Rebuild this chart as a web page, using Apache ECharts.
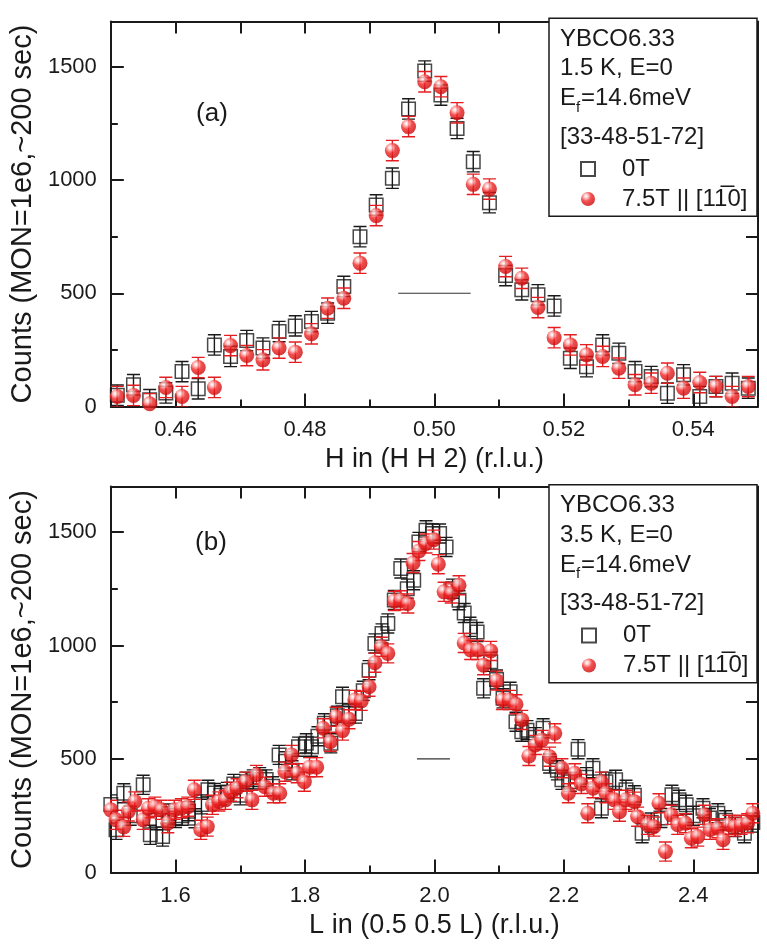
<!DOCTYPE html>
<html>
<head>
<meta charset="utf-8">
<script src="https://cdn.jsdelivr.net/npm/echarts@6/dist/echarts.min.js"></script>
<style>
html,body{margin:0;padding:0;background:#fff;}
#chart{width:767px;height:948px;}
</style>
</head>
<body>
<div id="chart"></div>
<script>
// ---------- Panel (a): H scan ----------
const H_A = [0.4510,0.4535,0.4560,0.4585,0.4610,0.4635,0.4660,0.4685,0.4710,0.4735,
             0.4760,0.4785,0.4810,0.4835,0.4860,0.4885,0.4910,0.4935,0.4960,0.4985,
             0.5010,0.5035,0.5060,0.5085,0.5110,0.5135,0.5160,0.5185,0.5210,0.5235,
             0.5260,0.5285,0.5310,0.5335,0.5360,0.5385,0.5410,0.5435,0.5460,0.5485];
const A_0T = [50,96,30,60,154,78,272,221,291,258,
              331,356,375,412,530,750,890,1008,1314,1481,
              1375,1228,1081,900,578,515,493,444,213,176,
              272,235,154,132,59,140,44,88,103,81];
const A_75T = [44,49,12,84,44,172,84,269,225,206,
               258,240,321,434,478,633,843,1130,1236,1434,
               1412,1297,981,960,618,566,437,304,272,228,
               221,169,96,103,147,81,106,88,44,88];
const ERR_A = 45;
const RES_A = [0.4944, 0.5056];

// ---------- Panel (b): L scan ----------
const L_B_0 = [1.500,1.508,1.520,1.530,1.550,1.561,1.570,1.580,1.590,1.600,
               1.610,1.620,1.630,1.640,1.650,1.660,1.670,1.680,1.690,1.700,
               1.710,1.720,1.730,1.740,1.750,1.760,1.770,1.780,1.790,1.802,
               1.810,1.820,1.830,1.840,1.850,1.858,1.868,1.878,1.890,1.899,
               1.908,1.919,1.928,1.938,1.948,1.958,1.968,1.976,1.987,1.997,
               2.008,2.018,2.028,2.038,2.046,2.055,2.066,2.076,2.087,2.096,
               2.106,2.117,2.126,2.135,2.143,2.156,2.168,2.178,2.190,2.197,
               2.210,2.222,2.235,2.245,2.258,2.265,2.280,2.296,2.309,2.321,
               2.335,2.350,2.367,2.378,2.389,2.400,2.415,2.425,2.438,2.450,
               2.465,2.479,2.492];
const B_0T = [300,188,349,250,386,166,230,158,260,240,
              250,270,239,300,364,350,340,355,390,340,
              400,410,420,410,380,518,490,450,554,569,
              554,600,657,569,690,774,700,700,800,891,
              1009,1053,1097,1200,1339,1250,1287,1456,1507,1493,
              1493,1434,1250,1199,1143,1082,1059,811,928,850,
              767,796,664,620,627,596,635,480,450,408,
              400,543,420,459,283,400,408,364,340,173,
              220,240,342,320,298,250,283,240,261,230,
              200,173,220];
const L_B_75 = [1.500,1.508,1.520,1.527,1.537,1.550,1.558,1.568,1.578,1.588,1.598,
                1.609,1.619,1.629,1.639,1.649,1.657,1.667,1.677,1.685,1.695,
                1.708,1.718,1.725,1.738,1.751,1.761,1.769,1.779,1.788,1.799,
                1.807,1.818,1.828,1.839,1.848,1.858,1.868,1.877,1.887,1.899,
                1.908,1.918,1.928,1.938,1.948,1.959,1.967,1.976,1.987,1.999,
                2.006,2.015,2.026,2.038,2.046,2.056,2.067,2.076,2.087,2.096,
                2.105,2.116,2.126,2.135,2.146,2.156,2.166,2.178,2.186,2.197,
                2.207,2.217,2.227,2.237,2.245,2.258,2.265,2.278,2.286,2.296,
                2.309,2.314,2.329,2.339,2.347,2.357,2.366,2.376,2.388,2.397,
                2.407,2.417,2.426,2.438,2.446,2.455,2.464,2.474,2.484,2.492];
const B_75T = [276,232,201,269,313,232,283,290,276,217,276,
               283,290,364,188,202,298,313,320,356,371,
               400,320,430,378,349,349,444,518,437,400,
               464,464,635,576,686,625,675,760,756,818,
               924,994,965,1196,1199,1185,1363,1416,1449,1466,
               1358,1236,1229,1265,1011,980,980,913,976,845,
               760,760,741,672,513,562,584,510,613,459,
               349,437,390,261,371,400,349,320,268,320,
               312,246,210,202,305,92,254,210,217,151,
               158,254,188,195,144,210,202,210,217,261];
const ERR_B = 42;
const RES_B = [1.973, 2.024];
const RES_LEVEL = 500;

// ---------- ticks / labels ----------
const TICKS_H = [0.46, 0.48, 0.50, 0.52, 0.54];
const TICKS_L = [1.6, 1.8, 2.0, 2.2, 2.4];
const TICKS_Y = [0, 500, 1000, 1500];

const NAME_0T = '0T';
const NAME_75T = '7.5T || [11\u03050]';

const FONT = "'Liberation Sans', Arial, sans-serif";
const INK = '#1a1a1a';
const RED = '#e41e20';

const chart = echarts.init(document.getElementById('chart'), null, {renderer: 'canvas'});

const ballColor = new echarts.graphic.RadialGradient(0.36, 0.3, 0.72, [
  {offset: 0, color: '#ffffff'},
  {offset: 0.18, color: '#ffc4c4'},
  {offset: 0.5, color: '#f02424'},
  {offset: 1, color: '#c80808'}
]);

function errSeries(xs, ys, err, color, xi, yi, z) {
  return {
    type: 'custom', xAxisIndex: xi, yAxisIndex: yi, z: z, silent: true, clip: true,
    data: xs.map((x, i) => [x, ys[i], err]),
    renderItem: function (params, api) {
      const x = api.value(0), y = api.value(1), e = api.value(2);
      const t = api.coord([x, y + e]);
      const b = api.coord([x, y - e]);
      const hw = 6.5;
      const st = {stroke: color, lineWidth: 1.4, fill: null};
      return {type: 'group', children: [
        {type: 'line', shape: {x1: t[0], y1: t[1], x2: b[0], y2: b[1]}, style: st},
        {type: 'line', shape: {x1: t[0] - hw, y1: t[1], x2: t[0] + hw, y2: t[1]}, style: st},
        {type: 'line', shape: {x1: b[0] - hw, y1: b[1], x2: b[0] + hw, y2: b[1]}, style: st}
      ]};
    }
  };
}
function squares(xs, ys, xi, yi) {
  return {
    type: 'scatter', name: NAME_0T, xAxisIndex: xi, yAxisIndex: yi, z: 3,
    symbol: 'rect', symbolSize: 13.5,
    itemStyle: {color: 'rgba(255,255,255,0)', borderColor: INK, borderWidth: 1.5},
    data: xs.map((x, i) => [x, ys[i]])
  };
}
function balls(xs, ys, xi, yi) {
  return {
    type: 'scatter', name: NAME_75T, xAxisIndex: xi, yAxisIndex: yi, z: 5,
    symbol: 'circle', symbolSize: 15,
    itemStyle: {color: ballColor},
    data: xs.map((x, i) => [x, ys[i]])
  };
}
function resLine(r, xi, yi) {
  return {
    type: 'line', xAxisIndex: xi, yAxisIndex: yi, z: 2, silent: true,
    symbol: 'none', lineStyle: {color: '#333', width: 1.2},
    data: [[r[0], RES_LEVEL], [r[1], RES_LEVEL]]
  };
}

function xAxes(grid, min, max, step, majors, digits, name) {
  return [
    {type: 'value', gridIndex: grid, position: 'bottom', min: min, max: max, interval: step,
     axisLine: {show: true, onZero: false, lineStyle: {color: INK, width: 2}},
     axisTick: {show: true, inside: true, length: 7, lineStyle: {color: INK, width: 2}},
     axisLabel: {show: true, customValues: majors, formatter: v => v.toFixed(digits),
                 fontFamily: FONT, fontSize: 22, color: INK, margin: 12},
     splitLine: {show: false},
     name: name, nameLocation: 'middle', nameGap: 40,
     nameTextStyle: {fontFamily: FONT, fontSize: 27, color: INK}},
    {type: 'value', gridIndex: grid, position: 'bottom', min: min, max: max,
     axisLine: {show: false, onZero: false},
     axisTick: {show: true, inside: true, length: 13, customValues: majors, lineStyle: {color: INK, width: 2}},
     axisLabel: {show: false}, splitLine: {show: false}},
    {type: 'value', gridIndex: grid, position: 'top', min: min, max: max, interval: step,
     axisLine: {show: true, onZero: false, lineStyle: {color: INK, width: 2}},
     axisTick: {show: true, inside: true, length: 12, lineStyle: {color: INK, width: 2}},
     axisLabel: {show: false}, splitLine: {show: false}}
  ];
}
function yAxes(grid) {
  return [
    {type: 'value', gridIndex: grid, position: 'left', min: 0, max: 1700, interval: 250,
     axisLine: {show: true, onZero: false, lineStyle: {color: INK, width: 2}},
     axisTick: {show: true, inside: true, length: 7, lineStyle: {color: INK, width: 2}},
     axisLabel: {show: true, customValues: TICKS_Y, formatter: v => String(v),
                 fontFamily: FONT, fontSize: 22, color: INK, margin: 14},
     splitLine: {show: false},
     name: 'Counts (MON=1e6,~200 sec)', nameLocation: 'middle', nameGap: 70,
     nameTextStyle: {fontFamily: FONT, fontSize: 29, color: INK}},
    {type: 'value', gridIndex: grid, position: 'left', min: 0, max: 1700, interval: 500,
     axisLine: {show: false, onZero: false},
     axisTick: {show: true, inside: true, length: 13, lineStyle: {color: INK, width: 2}},
     axisLabel: {show: false}, splitLine: {show: false}},
    {type: 'value', gridIndex: grid, position: 'right', min: 0, max: 1700, interval: 250,
     axisLine: {show: true, onZero: false, lineStyle: {color: INK, width: 2}},
     axisTick: {show: true, inside: true, length: 12, lineStyle: {color: INK, width: 2}},
     axisLabel: {show: false}, splitLine: {show: false}}
  ];
}

function legendBox(top, tempLine) {
  const z = 20;
  const tx = 560;
  const ts = {fontFamily: FONT, fontSize: 24, fill: INK, verticalAlign: 'middle', align: 'left'};
  return [
    {type: 'rect', z: z, shape: {x: 549, y: top, width: 208, height: 198},
     style: {fill: '#fff', stroke: INK, lineWidth: 1.5}},
    {type: 'text', z: z + 1, x: tx, y: top + 21, style: Object.assign({text: 'YBCO6.33'}, ts)},
    {type: 'text', z: z + 1, x: tx, y: top + 50.5, style: Object.assign({text: tempLine}, ts)},
    {type: 'text', z: z + 1, x: tx, y: top + 80.5, style: Object.assign({text: 'E'}, ts)},
    {type: 'text', z: z + 1, x: tx + 16, y: top + 89.5, style: Object.assign({}, ts, {text: 'f', fontSize: 15})},
    {type: 'text', z: z + 1, x: tx + 21, y: top + 80.5, style: Object.assign({text: '=14.6meV'}, ts)},
    {type: 'text', z: z + 1, x: tx, y: top + 119, style: Object.assign({text: '[33-48-51-72]'}, ts)}
  ];
}

const legendCommon = {
  orient: 'vertical', itemWidth: 14, itemHeight: 14, itemGap: 6, selectedMode: false, z: 30,
  padding: 0,
  data: [NAME_0T, NAME_75T],
  textStyle: {fontFamily: FONT, fontSize: 24, color: INK, lineHeight: 24, padding: [0, 0, 0, 22]}
};

const option = {
  animation: false,
  backgroundColor: '#fff',
  grid: [
    {left: 105, right: 9, top: 21.5, height: 385},
    {left: 105, right: 9, top: 486.5, height: 386}
  ],
  xAxis: [].concat(
    xAxes(0, 0.45, 0.55, 0.01, TICKS_H, 2, 'H in (H H 2) (r.l.u.)'),
    xAxes(1, 1.5, 2.5, 0.1, TICKS_L, 1, 'L in (0.5 0.5 L) (r.l.u.)')
  ),
  yAxis: [].concat(yAxes(0), yAxes(1)),
  legend: [
    Object.assign({left: 580, top: 157}, legendCommon),
    Object.assign({left: 581, top: 623.5}, legendCommon)
  ],
  graphic: [].concat(
    legendBox(18.3, '1.5 K, E=0'),
    legendBox(484.8, '3.5 K, E=0'),
    [
      {type: 'text', x: 212, y: 114, style: {text: '(a)', fontFamily: FONT, fontSize: 26, fill: INK, align: 'center', verticalAlign: 'middle'}},
      {type: 'text', x: 211, y: 543, style: {text: '(b)', fontFamily: FONT, fontSize: 26, fill: INK, align: 'center', verticalAlign: 'middle'}}
    ]
  ),
  series: [
    resLine(RES_A, 0, 0),
    errSeries(H_A, A_0T, ERR_A, INK, 0, 0, 2),
    squares(H_A, A_0T, 0, 0),
    errSeries(H_A, A_75T, ERR_A, RED, 0, 0, 4),
    balls(H_A, A_75T, 0, 0),
    resLine(RES_B, 3, 3),
    errSeries(L_B_0, B_0T, ERR_B, INK, 3, 3, 2),
    squares(L_B_0, B_0T, 3, 3),
    errSeries(L_B_75, B_75T, ERR_B, RED, 3, 3, 4),
    balls(L_B_75, B_75T, 3, 3)
  ]
};
chart.setOption(option);
</script>
</body>
</html>
